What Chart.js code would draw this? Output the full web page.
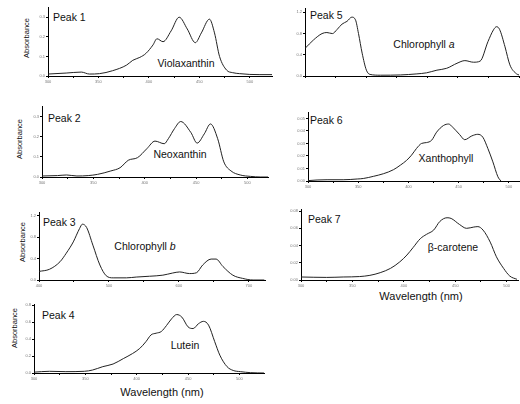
<!DOCTYPE html>
<html>
<head>
<meta charset="utf-8">
<script src="https://cdn.jsdelivr.net/npm/chart.js@4.4.0/dist/chart.umd.min.js"></script>
<style>
  html, body { margin: 0; padding: 0; background: #fff; overflow: hidden; }
  #stage { position: relative; width: 520px; height: 404px; font-family: "Liberation Sans", Arial, sans-serif; color: #111; }
  #stage canvas { position: absolute; }
  .lbl { position: absolute; white-space: nowrap; line-height: 1; transform: translate(-50%, -50%); }
  .peak { position: absolute; white-space: nowrap; line-height: 1; font-size: 10.5px; transform: translateY(-50%); }
  .name { font-size: 10.5px; }
  .ylab { font-size: 7.5px; transform: translate(-50%, -50%) rotate(-90deg); }
  .xlab { font-size: 11px; }
</style>
</head>
<body>
<div id="stage">
  <div class="peak" style="left:53px;top:17px">Peak 1</div>
  <div class="peak" style="left:48px;top:118px">Peak 2</div>
  <div class="peak" style="left:43px;top:222px">Peak 3</div>
  <div class="peak" style="left:42px;top:315px">Peak 4</div>
  <div class="peak" style="left:310px;top:15px">Peak 5</div>
  <div class="peak" style="left:310px;top:120px">Peak 6</div>
  <div class="peak" style="left:308px;top:219px">Peak 7</div>

  <div class="lbl name" style="left:186px;top:63px">Violaxanthin</div>
  <div class="lbl name" style="left:180px;top:154px">Neoxanthin</div>
  <div class="lbl name" style="left:145px;top:246px">Chlorophyll <i>b</i></div>
  <div class="lbl name" style="left:185px;top:345px">Lutein</div>
  <div class="lbl name" style="left:424px;top:44px">Chlorophyll <i>a</i></div>
  <div class="lbl name" style="left:446px;top:158px">Xanthophyll</div>
  <div class="lbl name" style="left:453px;top:247px">β-carotene</div>

  <div class="lbl ylab" style="left:27px;top:38px">Absorbance</div>
  <div class="lbl ylab" style="left:20px;top:139px">Absorbance</div>
  <div class="lbl ylab" style="left:23px;top:242px">Absorbance</div>
  <div class="lbl ylab" style="left:15px;top:328px">Absorbance</div>

  <div class="lbl xlab" style="left:162px;top:392px">Wavelength (nm)</div>
  <div class="lbl xlab" style="left:421px;top:296px">Wavelength (nm)</div>
</div>
<script>
// spectra: wavelength (nm) / absorbance
const peak1Nm = [300, 318, 333, 341, 351, 364, 378, 384, 391, 397, 404, 408, 414, 422, 430, 438, 446, 452, 460, 465, 470, 477, 483, 490, 500, 510, 522]
const peak1Abs = [0.01, 0.015, 0.02, 0.01, 0.012, 0.027, 0.056, 0.08, 0.095, 0.115, 0.158, 0.19, 0.175, 0.23, 0.30, 0.24, 0.17, 0.22, 0.29, 0.22, 0.10, 0.03, 0.017, 0.012, 0.008, 0.007, 0.007]

const peak2Nm = [300, 315, 324, 334, 345, 354, 367, 376, 384, 393, 402, 410, 419, 423, 429, 435, 445, 451, 458, 464, 471, 477, 484, 493, 503, 513, 520]
const peak2Abs = [0.005, 0.007, 0.01, 0.005, 0.007, 0.013, 0.03, 0.046, 0.083, 0.096, 0.14, 0.178, 0.165, 0.19, 0.24, 0.275, 0.22, 0.168, 0.214, 0.263, 0.19, 0.075, 0.03, 0.01, 0.003, 0.0, 0.0]

const peak3Nm = [400, 415, 430, 439, 449, 458, 462, 468, 477, 487, 496, 506, 525, 539, 558, 577, 591, 601, 615, 625, 634, 646, 653, 663, 677, 691, 706, 722]
const peak3Abs = [0.16, 0.2, 0.34, 0.5, 0.71, 0.96, 1.04, 0.98, 0.65, 0.28, 0.08, 0.04, 0.04, 0.055, 0.07, 0.09, 0.13, 0.15, 0.12, 0.135, 0.28, 0.39, 0.39, 0.25, 0.09, 0.03, 0.0, 0.0]

const peak4Nm = [300, 315, 331, 349, 357, 367, 377, 387, 396, 403, 409, 414, 419, 424, 429, 434, 439, 444, 450, 455, 460, 465, 470, 476, 481, 488, 494, 501, 511, 524]
const peak4Abs = [0.01, 0.02, 0.016, 0.02, 0.035, 0.075, 0.106, 0.17, 0.23, 0.29, 0.37, 0.45, 0.47, 0.49, 0.56, 0.64, 0.69, 0.66, 0.545, 0.525, 0.58, 0.61, 0.565, 0.37, 0.21, 0.075, 0.03, 0.016, 0.004, 0.0]

const peak5Nm = [350, 364, 378, 386, 395, 403, 411, 419, 427, 433, 438, 444, 451, 457, 474, 507, 534, 550, 567, 583, 600, 613, 627, 638, 651, 660, 665, 670, 679, 687, 698, 702]
const peak5Abs = [0.52, 0.68, 0.8, 0.82, 0.8, 0.88, 0.98, 1.03, 1.11, 1.06, 0.8, 0.43, 0.11, 0.03, 0.015, 0.02, 0.04, 0.06, 0.11, 0.145, 0.24, 0.29, 0.26, 0.28, 0.65, 0.87, 0.93, 0.88, 0.55, 0.21, 0.04, 0.02]

const peak6Nm = [300, 309, 319, 335, 349, 355, 365, 375, 385, 392, 398, 403, 408, 413, 418, 423, 428, 435, 440, 444, 451, 456, 463, 469, 474, 479, 484, 489, 492]
const peak6Abs = [0.0003, 0.0008, 0.001, 0.001, 0.0016, 0.002, 0.0037, 0.0058, 0.009, 0.0127, 0.0164, 0.0206, 0.026, 0.030, 0.0307, 0.0325, 0.039, 0.0444, 0.0455, 0.043, 0.037, 0.033, 0.036, 0.0373, 0.035, 0.026, 0.0153, 0.0034, 0.0]

const peak7Nm = [300, 325, 341, 357, 367, 377, 387, 396, 403, 409, 416, 422, 429, 435, 442, 446, 454, 461, 468, 472, 477, 484, 490, 497, 503, 510]
const peak7Abs = [0.0035, 0.003, 0.0035, 0.004, 0.0054, 0.0085, 0.0135, 0.021, 0.029, 0.0377, 0.048, 0.053, 0.058, 0.068, 0.0723, 0.0715, 0.0646, 0.060, 0.0615, 0.062, 0.058, 0.044, 0.027, 0.0135, 0.0046, 0.0008]

// axis ranges and tick steps per panel
const xRanges = [[300, 522], [300, 520], [400, 723], [300, 524], [350, 702], [300, 511], [300, 511]]
const xMajorSteps = [50, 50, 100, 50, 100, 50, 50]
const yRanges = [[0, 0.35], [0, 0.35], [0, 1.26], [0, 0.81], [0, 1.275], [0, 0.0548], [0, 0.082]]
const yMajorSteps = [0.1, 0.1, 0.4, 0.2, 0.4, 0.01, 0.02]
const yDecimals = [1, 1, 1, 1, 1, 2, 2]

// layout: plot boxes [left, top, right, bottom] in page pixels
const boxes = [
  [48, 7, 272, 76],
  [42, 106, 268, 177],
  [39, 212, 265, 280],
  [34, 304, 264, 373],
  [305, 8, 519, 76],
  [308, 112, 520, 181],
  [301, 209, 518, 280]
]

const PAD_L = 22
const PAD_R = 3
const PAD_T = 3
const PAD_B = 14

const spectra = [
  [peak1Nm, peak1Abs],
  [peak2Nm, peak2Abs],
  [peak3Nm, peak3Abs],
  [peak4Nm, peak4Abs],
  [peak5Nm, peak5Abs],
  [peak6Nm, peak6Abs],
  [peak7Nm, peak7Abs]
]

const stage = document.getElementById('stage')

function makePanel(i) {
  let [l, t, r, b] = boxes[i]
  let w = r - l + PAD_L + PAD_R
  let h = b - t + PAD_T + PAD_B
  let cv = document.createElement('canvas')
  cv.width = w
  cv.height = h
  cv.style.left = l - PAD_L + 'px'
  cv.style.top = t - PAD_T + 'px'
  cv.style.width = w + 'px'
  cv.style.height = h + 'px'
  stage.appendChild(cv)

  let [nm, abs] = spectra[i]
  let xMajor = xMajorSteps[i]

  new Chart(cv.getContext('2d'), {
    type: 'line',
    data: {
      datasets: [
        {
          data: nm.map((x, k) => ({ x: x, y: abs[k] })),
          borderColor: '#222',
          borderWidth: 1,
          pointRadius: 0,
          cubicInterpolationMode: 'monotone',
          fill: false
        }
      ]
    },
    options: {
      responsive: false,
      animation: false,
      devicePixelRatio: 1,
      layout: { padding: { left: 0, top: PAD_T, right: PAD_R, bottom: 0 } },
      plugins: { legend: { display: false }, tooltip: { enabled: false } },
      scales: {
        x: {
          type: 'linear',
          min: xRanges[i][0],
          max: xRanges[i][1],
          border: { color: '#000', width: 1 },
          grid: { drawOnChartArea: false, tickLength: 2, color: '#000' },
          ticks: {
            stepSize: xMajor / 2,
            autoSkip: false,
            maxRotation: 0,
            includeBounds: false,
            padding: 1,
            color: '#777',
            font: { size: 4, family: 'Liberation Sans' },
            callback: v => (v % xMajor === 0 ? String(v) : '')
          },
          afterFit: s => {
            s.height = PAD_B
          }
        },
        y: {
          min: yRanges[i][0],
          max: yRanges[i][1],
          border: { color: '#000', width: 1 },
          grid: { drawOnChartArea: false, tickLength: 2, color: '#000' },
          ticks: {
            stepSize: yMajorSteps[i],
            includeBounds: false,
            padding: 1,
            color: '#777',
            font: { size: 4, family: 'Liberation Sans' },
            callback: v => v.toFixed(yDecimals[i])
          },
          afterFit: s => {
            s.width = PAD_L
          }
        }
      }
    }
  })
}

for (let i = 0; i < boxes.length; i++) {
  makePanel(i)
}
</script>
</body>
</html>
